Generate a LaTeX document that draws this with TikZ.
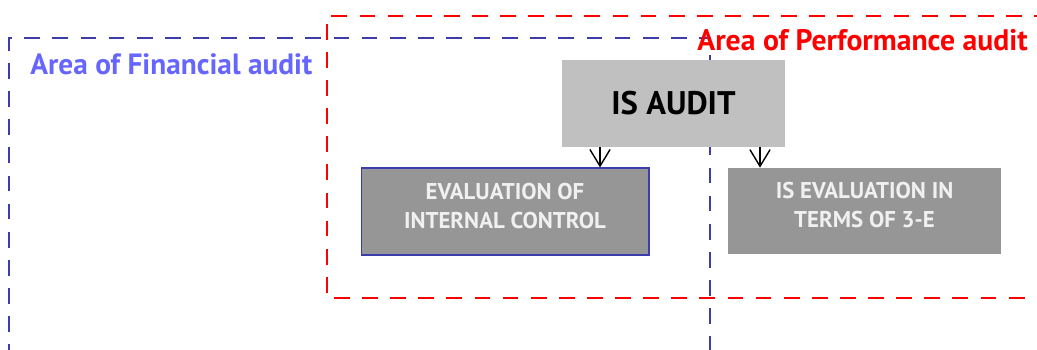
\documentclass[tikz,border=0pt]{standalone}
\usepackage{fontspec}
\setmainfont{PT Sans}
\usetikzlibrary{arrows.meta}
\definecolor{finblue}{RGB}{60,60,170}
\definecolor{finlabel}{RGB}{102,102,255}
\definecolor{perfred}{RGB}{255,0,0}
\definecolor{lightbox}{RGB}{192,192,192}
\definecolor{darkbox}{RGB}{150,150,150}

\begin{document}
\begin{tikzpicture}[x=0.02cm,y=-0.02cm,
    area/.style={line width=1.5pt,dash pattern=on 9pt off 7pt},
    evalbox/.style={fill=darkbox,text=white!94!black,align=center,
      font=\bfseries\fontsize{13}{16.5}\selectfont,inner sep=0pt,
      text height=20pt,text depth=0.8pt},
    arr/.style={-{Straight Barb[length=9.5pt,width=11.5pt,line width=0.8pt]},line width=0.8pt}]
    \clip (0,0) rectangle (1037,349);

    % Financial audit area (open at the bottom)
    \draw[area,finblue] (9,360) -- (9,38) -- (710,38) -- (710,360);
    \node[anchor=base west,inner sep=0pt,text=finlabel,
      font=\bfseries\fontsize{16.7}{18}\selectfont] (finlab) at (30,74)
      {Area of Financial audit};

    % Performance audit area (open at the right)
    \draw[area,perfred] (1050,16) -- (327,16) -- (327,298) -- (1050,298);
    \node[anchor=base east,inner sep=0pt,text=perfred,
      font=\bfseries\fontsize{16.9}{18}\selectfont] (perflab) at (1028,50)
      {Area of Performance audit};

    % boxes
    \node[fill=lightbox,minimum width=44.6mm,minimum height=17.4mm,
      font=\bfseries\fontsize{18.6}{20}\selectfont] (audit) at (673.5,103.5)
      {IS AUDIT};
    \node[evalbox,draw=finblue,line width=0.6pt,minimum width=57.6mm,
      minimum height=17.4mm] (ic) at (505,211.5)
      {EVALUATION OF\\INTERNAL CONTROL};
    \node[evalbox,minimum width=54.6mm,minimum height=17.2mm]
      (te) at (864.5,211) {IS EVALUATION IN\\TERMS OF 3-E};

    % arrows
    \coordinate (la) at (600,0);
    \coordinate (ra) at (760,0);
    \draw[arr] (audit.south -| la) -- (ic.north -| la);
    \draw[arr] (audit.south -| ra) -- (te.north -| ra);
\end{tikzpicture}
\end{document}
